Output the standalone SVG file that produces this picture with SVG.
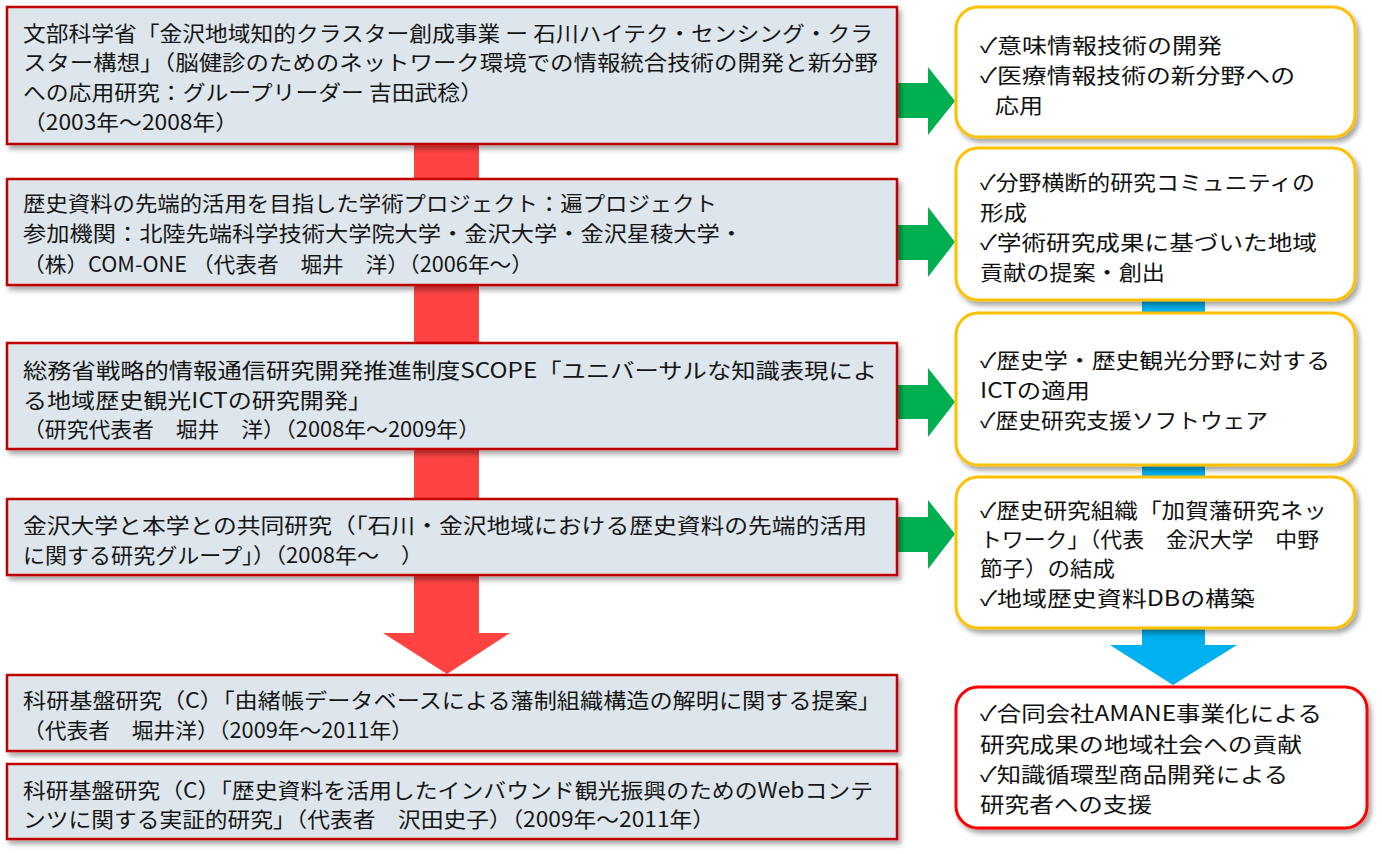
<svg xmlns="http://www.w3.org/2000/svg" width="1382" height="854" viewBox="0 0 1382 854">
<style>
.lbox{fill:#DDE6EC;stroke:#C00000;stroke-width:2.5}
.ybox{fill:#FFFFFF;stroke:#FFC000;stroke-width:3}
.rbox{fill:#FFFFFF;stroke:#FF0000;stroke-width:3}
.lt{font-family:"Noto Sans CJK JP","DejaVu Sans",sans-serif;font-size:21px;fill:#161616}
.rt{font-family:"Noto Sans CJK JP","DejaVu Sans",sans-serif;font-size:21px;fill:#111111}
.red{fill:#FF4343}
.green{fill:#00B050}
.blue{fill:#00B0F0}
</style>
<defs>
<filter id="sh" x="-5%" y="-10%" width="115%" height="130%">
<feDropShadow dx="3" dy="4" stdDeviation="2.5" flood-color="#000" flood-opacity="0.35"/>
</filter>
</defs>
<rect width="1382" height="854" fill="#FFFFFF"/>
<g id="connectors">
<polygon class="red" points="414,120 479,120 479,633 510,633 447,674 383,633 414,633"/>
<polygon class="blue" points="1142,200 1205,200 1205,645 1237,645 1173,685 1110,645 1142,645"/>
<polygon class="green" points="896,83 928,83 928,67 955,101 928,135 928,118 896,118"/>
<polygon class="green" points="896,225 928,225 928,207 955,242 928,277 928,260 896,260"/>
<polygon class="green" points="896,385 928,385 928,368 955,402 928,437 928,419 896,419"/>
<polygon class="green" points="896,517 928,517 928,500 955,534 928,569 928,552 896,552"/>
</g>
<g id="n1">
<rect class="lbox" x="7" y="7" width="890" height="137" filter="url(#sh)"/>
<text class="lt" x="23" y="41" textLength="850" lengthAdjust="spacingAndGlyphs">文部科学省「金沢地域知的クラスター創成事業 ー 石川ハイテク・センシング・クラ</text>
<text class="lt" x="23" y="70" textLength="855" lengthAdjust="spacingAndGlyphs">スター構想」（脳健診のためのネットワーク環境での情報統合技術の開発と新分野</text>
<text class="lt" x="23" y="100" textLength="460" lengthAdjust="spacingAndGlyphs">への応用研究：グループリーダー 吉田武稔）</text>
<text class="lt" x="23" y="130" textLength="215" lengthAdjust="spacingAndGlyphs">（2003年～2008年）</text>
</g>
<g id="n2">
<rect class="lbox" x="7" y="179" width="890" height="106" filter="url(#sh)"/>
<text class="lt" x="23" y="211" textLength="694" lengthAdjust="spacingAndGlyphs">歴史資料の先端的活用を目指した学術プロジェクト：遍プロジェクト</text>
<text class="lt" x="23" y="241" textLength="720" lengthAdjust="spacingAndGlyphs">参加機関：北陸先端科学技術大学院大学・金沢大学・金沢星稜大学・</text>
<text class="lt" x="23" y="272" textLength="510" lengthAdjust="spacingAndGlyphs">（株）COM-ONE （代表者　堀井　洋）（2006年～）</text>
</g>
<g id="n3">
<rect class="lbox" x="7" y="343" width="890" height="106" filter="url(#sh)"/>
<text class="lt" x="23" y="378" textLength="854" lengthAdjust="spacingAndGlyphs">総務省戦略的情報通信研究開発推進制度SCOPE「ユニバーサルな知識表現によ</text>
<text class="lt" x="23" y="408" textLength="349" lengthAdjust="spacingAndGlyphs">る地域歴史観光ICTの研究開発」</text>
<text class="lt" x="23" y="437" textLength="457" lengthAdjust="spacingAndGlyphs">（研究代表者　堀井　洋）（2008年～2009年）</text>
</g>
<g id="n4">
<rect class="lbox" x="7" y="499" width="890" height="76" filter="url(#sh)"/>
<text class="lt" x="23" y="533" textLength="844" lengthAdjust="spacingAndGlyphs">金沢大学と本学との共同研究（「石川・金沢地域における歴史資料の先端的活用</text>
<text class="lt" x="23" y="563" textLength="400" lengthAdjust="spacingAndGlyphs">に関する研究グループ」）（2008年～　）</text>
</g>
<g id="n5">
<rect class="lbox" x="7" y="675" width="890" height="76" filter="url(#sh)"/>
<text class="lt" x="23" y="708" textLength="858" lengthAdjust="spacingAndGlyphs">科研基盤研究（C）「由緒帳データベースによる藩制組織構造の解明に関する提案」</text>
<text class="lt" x="23" y="738" textLength="390" lengthAdjust="spacingAndGlyphs">（代表者　堀井洋）（2009年～2011年）</text>
</g>
<g id="n6">
<rect class="lbox" x="7" y="764" width="890" height="75" filter="url(#sh)"/>
<text class="lt" x="23" y="798" textLength="850" lengthAdjust="spacingAndGlyphs">科研基盤研究（C）「歴史資料を活用したインバウンド観光振興のためのWebコンテ</text>
<text class="lt" x="23" y="827" textLength="692" lengthAdjust="spacingAndGlyphs">ンツに関する実証的研究」（代表者　沢田史子）（2009年～2011年）</text>
</g>
<g id="r1">
<rect class="ybox" x="956" y="7" width="399" height="130" rx="22" filter="url(#sh)"/>
<text class="rt" x="980" y="53" textLength="242" lengthAdjust="spacingAndGlyphs">✓意味情報技術の開発</text>
<text class="rt" x="980" y="83" textLength="315" lengthAdjust="spacingAndGlyphs">✓医療情報技術の新分野への</text>
<text class="rt" x="995" y="113" textLength="48" lengthAdjust="spacingAndGlyphs">応用</text>
</g>
<g id="r2">
<rect class="ybox" x="956" y="148" width="399" height="152" rx="22" filter="url(#sh)"/>
<text class="rt" x="980" y="190" textLength="335" lengthAdjust="spacingAndGlyphs">✓分野横断的研究コミュニティの</text>
<text class="rt" x="980" y="220" textLength="47" lengthAdjust="spacingAndGlyphs">形成</text>
<text class="rt" x="980" y="250" textLength="337" lengthAdjust="spacingAndGlyphs">✓学術研究成果に基づいた地域</text>
<text class="rt" x="980" y="280" textLength="185" lengthAdjust="spacingAndGlyphs">貢献の提案・創出</text>
</g>
<g id="r3">
<rect class="ybox" x="956" y="313" width="399" height="152" rx="22" filter="url(#sh)"/>
<text class="rt" x="980" y="368" textLength="350" lengthAdjust="spacingAndGlyphs">✓歴史学・歴史観光分野に対する</text>
<text class="rt" x="980" y="398" textLength="110" lengthAdjust="spacingAndGlyphs">ICTの適用</text>
<text class="rt" x="980" y="428" textLength="288" lengthAdjust="spacingAndGlyphs">✓歴史研究支援ソフトウェア</text>
</g>
<g id="r4">
<rect class="ybox" x="956" y="477" width="399" height="151" rx="22" filter="url(#sh)"/>
<text class="rt" x="980" y="518" textLength="347" lengthAdjust="spacingAndGlyphs">✓歴史研究組織「加賀藩研究ネッ</text>
<text class="rt" x="980" y="547" textLength="339" lengthAdjust="spacingAndGlyphs">トワーク」（代表　金沢大学　中野</text>
<text class="rt" x="980" y="576" textLength="135" lengthAdjust="spacingAndGlyphs">節子）の結成</text>
<text class="rt" x="980" y="606" textLength="275" lengthAdjust="spacingAndGlyphs">✓地域歴史資料DBの構築</text>
</g>
<g id="r5">
<rect class="rbox" x="956" y="687" width="411" height="141" rx="22" filter="url(#sh)"/>
<text class="rt" x="980" y="721" textLength="342" lengthAdjust="spacingAndGlyphs">✓合同会社AMANE事業化による</text>
<text class="rt" x="980" y="752" textLength="322" lengthAdjust="spacingAndGlyphs">研究成果の地域社会への貢献</text>
<text class="rt" x="980" y="782" textLength="308" lengthAdjust="spacingAndGlyphs">✓知識循環型商品開発による</text>
<text class="rt" x="980" y="812" textLength="172" lengthAdjust="spacingAndGlyphs">研究者への支援</text>
</g>
</svg>
